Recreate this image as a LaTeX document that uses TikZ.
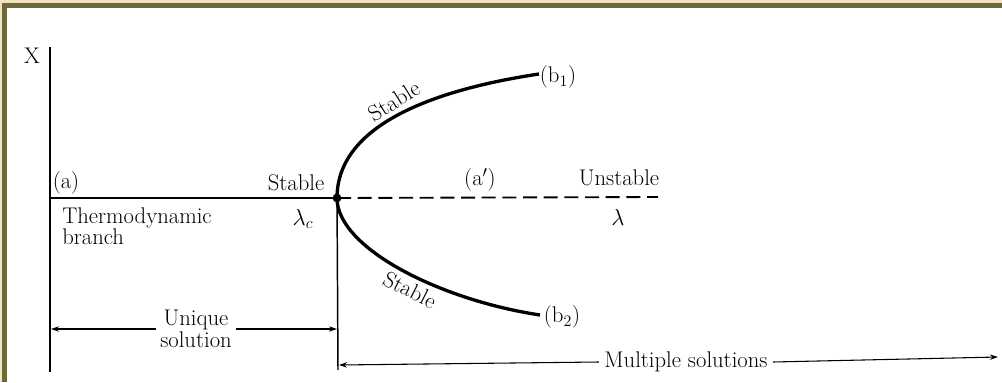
\documentclass[tikz,border=0pt]{standalone}
\usetikzlibrary{arrows.meta}
\definecolor{framolive}{HTML}{6B6A3B}
\definecolor{framcream}{HTML}{F3E3C3}
\begin{document}
\begin{tikzpicture}[x=0.75pt,y=-0.75pt,
  font=\fontsize{17}{16.5}\selectfont,
  >={Stealth[length=6pt,width=4pt]},
  axisline/.style={line width=1.4pt},
  branchline/.style={line width=2.5pt},
  dimline/.style={line width=0.8pt},
  lbl/.style={inner sep=1pt}]
\useasboundingbox (0,0) rectangle (1002,382);
\fill[white] (0,0) rectangle (1002,382);
\fill[framcream] (0,0) rectangle (1002,3);
\fill[framcream] (0,0) rectangle (2,382);
\fill[framolive] (2,3) rectangle (1002,8);
\fill[framolive] (2,3) rectangle (7,382);

% coordinates
\coordinate (axtop) at (50,47);
\coordinate (axbot) at (50,372);
\coordinate (axmid) at (50,198);
\coordinate (bif) at (337,198);
\coordinate (dashend) at (658,197);
\coordinate (vbot) at (338,370);
\coordinate (b1end) at (539,74);
\coordinate (b2end) at (540,315);
\coordinate (u1) at (51,329);
\coordinate (u2) at (337,329);
\coordinate (m1) at (339,365);
\coordinate (m2) at (998,357);

% axes and branches
\draw[axisline] (axtop) -- (axbot);
\draw[axisline] (axmid) -- (bif);
\draw[axisline, dash pattern=on 10.5pt off 5pt] (bif) -- (dashend);
\draw[line width=1.1pt] (bif) -- (vbot);
\draw[branchline] (bif) .. controls (337,123) and (439,89) .. (b1end);
\draw[branchline] (bif) .. controls (337,248) and (440,300) .. (b2end);
\fill (bif) circle[radius=3.3pt];

% labels
\node[lbl] (xlab) at (32,56) {X};
\node[lbl] (alab) at (66,183) {(a)};
\node[lbl] (stl) at (296,183) {Stable};
\node[align=left, anchor=west, inner sep=0pt, font=\fontsize{17}{15.8}\selectfont] (thermo) at (62,226) {Thermodynamic\\branch};
\node[lbl] (lc) at (303,219) {$\lambda_c$};
\node[lbl, rotate=32] (stu) at (394,101) {Stable};
\node[lbl] (b1) at (558,77) {(b$_1$)};
\node[lbl] (ap) at (480,180) {(a$'$)};
\node[lbl] (unst) at (619,178) {Unstable};
\node[lbl] (lam) at (618,217) {$\lambda$};
\node[lbl, rotate=-27] (std) at (410,290) {Stable};
\node[lbl] (b2) at (562,317) {(b$_2$)};

% dimension arrows
\draw[dimline, <->] (u1) -- (u2);
\node[fill=white, align=center, inner sep=3pt] (uniq) at (196,329) {Unique\\solution};
\node[inner sep=4pt] (mult) at (686,362) {Multiple solutions};
\draw[dimline, ->] (mult.west) -- (m1);
\draw[dimline, ->] (mult.east) -- (m2);
\end{tikzpicture}
\end{document}
